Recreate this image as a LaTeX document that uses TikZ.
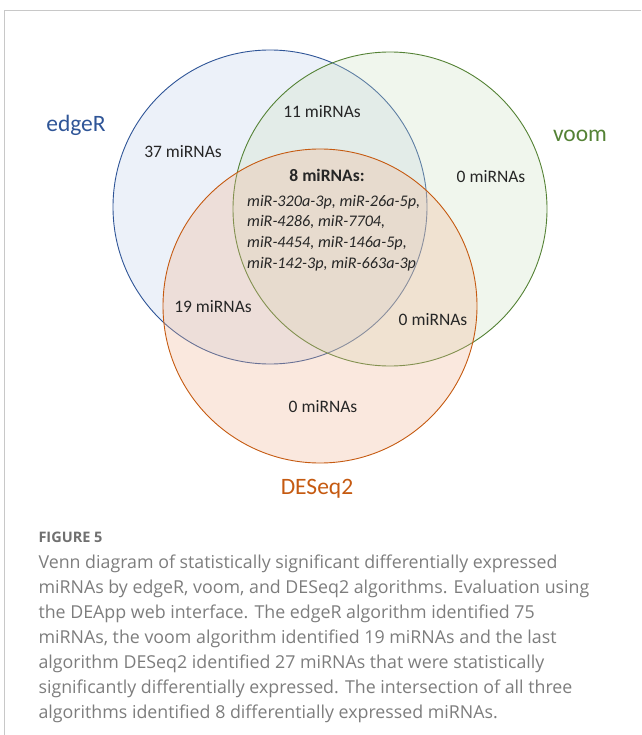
\documentclass[tikz,border=0pt]{standalone}
\usepackage{fontspec}
\setmainfont{Carlito}
\newfontfamily\capfont{Open Sans}
\usetikzlibrary{positioning}
\definecolor{edgeblue}{HTML}{2F5597}
\definecolor{edgefill}{RGB}{192,207,236}
\definecolor{voomfill}{RGB}{206,226,194}
\definecolor{voomgreen}{HTML}{548235}
\definecolor{deseqorange}{HTML}{C55A11}
\definecolor{deseqfill}{RGB}{240,180,145}
\definecolor{framegrey}{RGB}{200,200,200}
\definecolor{capgrey}{RGB}{125,125,125}

\begin{document}
\begin{tikzpicture}[x=1pt,y=-1pt,
    set/.style={circle,draw,line width=0.9pt,minimum size=314pt,inner sep=0pt,fill opacity=0.3},
    setname/.style={font=\fontsize{23.5}{28}\selectfont},
    count/.style={font=\fontsize{17.5}{21}\selectfont,text=black!85},
    caption/.style={anchor=base west,font=\capfont\fontsize{17.8}{25}\selectfont,text=capgrey}
    ]
\useasboundingbox (0,0) rectangle (641,735);
\draw[framegrey,line width=1pt] (4,735) -- (4,11) -- (641,11);

% the three sets
\node[set,draw=edgeblue,fill=edgefill] (edger) at (270,207) {};
\node[set,draw=voomgreen,fill=voomfill] (voom) at (390,209) {};
\node[set,draw=deseqorange,fill=deseqfill] (deseq) at (320,306) {};

\node[setname,text=edgeblue] (edgername) at (76,125) {edgeR};
\node[setname,text=voomgreen] (voomname) at (580,136) {voom};
\node[setname,text=deseqorange] (deseqname) at (317,489) {DESeq2};

% counts per region
\node[count] (onlyedger) at (183,152) {37 miRNAs};
\node[count] (edgervoom) at (322,112) {11 miRNAs};
\node[count] (onlyvoom) at (491,177) {0 miRNAs};
\node[count] (edgerdeseq) at (213,307) {19 miRNAs};
\node[count] (voomdeseq) at (433,320) {0 miRNAs};
\node[count] (onlydeseq) at (323,407) {0 miRNAs};
\node[count,font=\bfseries\fontsize{17.5}{21}\selectfont] (allthree) at (327,175) {8 miRNAs:};
\node[anchor=north west,align=left,inner sep=0pt,text=black!85,
  font=\itshape\fontsize{16.2}{20.6}\selectfont] (mirlist) at (247,195)
  {miR-320a-3p, miR-26a-5p,\\miR-4286, miR-7704,\\miR-4454, miR-146a-5p,\\miR-142-3p, miR-663a-3p};

% caption
\node[caption,font=\capfont\bfseries\fontsize{14.5}{18}\selectfont,text=capgrey!90!black] (figlabel) at (35,542.5) {FIGURE 5};
\foreach \txt [count=\i] in {%
  {Venn diagram of statistically significant differentially expressed},
  {miRNAs by edgeR, voom, and DESeq2 algorithms. Evaluation using},
  {the DEApp web interface. The edgeR algorithm identified 75},
  {miRNAs, the voom algorithm identified 19 miRNAs and the last},
  {algorithm DESeq2 identified 27 miRNAs that were statistically},
  {significantly differentially expressed. The intersection of all three},
  {algorithms identified 8 differentially expressed miRNAs.}}
  \node[caption] (cap\i) at (35,{568+(\i-1)*25.1}) {\txt};
\end{tikzpicture}
\end{document}
